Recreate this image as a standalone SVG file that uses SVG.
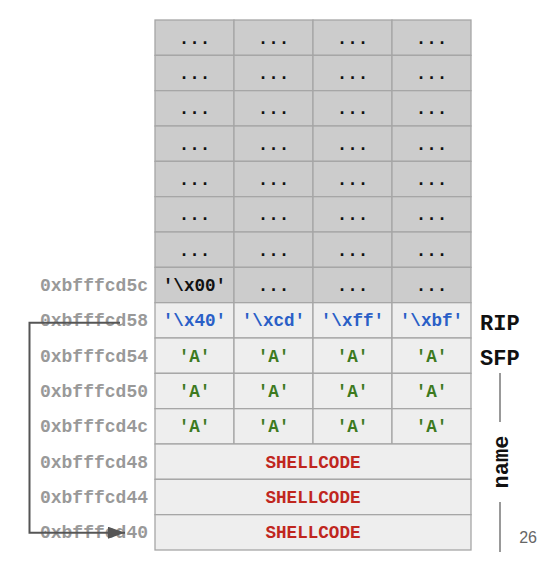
<svg xmlns="http://www.w3.org/2000/svg" width="552" height="578" viewBox="0 0 552 578">
<style>
.g{fill:#cccccc;stroke:#a6a6a6;stroke-width:1.3}
.l{fill:#eeeeee;stroke:#a6a6a6;stroke-width:1.3}
.t{font-family:"Liberation Mono",monospace;font-weight:bold;font-size:17.6px;text-anchor:middle}
.k{fill:#111}
.b{fill:#2a5fc7}
.a{fill:#3d7a1f}
.r{fill:#c0261e}
.addr{font-family:"Liberation Mono",monospace;font-weight:bold;font-size:18px;fill:#999;text-anchor:end}
.side{font-family:"Liberation Mono",monospace;font-weight:bold;font-size:22px;fill:#111}
.conn{fill:none;stroke:#555;stroke-width:2}
</style>
<defs>
<marker id="ah" markerWidth="17" markerHeight="12" refX="17" refY="6" orient="auto" markerUnits="userSpaceOnUse" viewBox="0 0 17 12">
<path d="M0,0 L17,6 L0,12 z" fill="#555"/>
</marker>
</defs>
<rect width="552" height="578" fill="#fff"/>
<g id="filler">
<rect class="g" x="155" y="20" width="79" height="35.33"/><rect class="g" x="234" y="20" width="79" height="35.33"/><rect class="g" x="313" y="20" width="79" height="35.33"/><rect class="g" x="392" y="20" width="79" height="35.33"/>
<rect class="g" x="155" y="55.33" width="79" height="35.33"/><rect class="g" x="234" y="55.33" width="79" height="35.33"/><rect class="g" x="313" y="55.33" width="79" height="35.33"/><rect class="g" x="392" y="55.33" width="79" height="35.33"/>
<rect class="g" x="155" y="90.67" width="79" height="35.33"/><rect class="g" x="234" y="90.67" width="79" height="35.33"/><rect class="g" x="313" y="90.67" width="79" height="35.33"/><rect class="g" x="392" y="90.67" width="79" height="35.33"/>
<rect class="g" x="155" y="126" width="79" height="35.33"/><rect class="g" x="234" y="126" width="79" height="35.33"/><rect class="g" x="313" y="126" width="79" height="35.33"/><rect class="g" x="392" y="126" width="79" height="35.33"/>
<rect class="g" x="155" y="161.33" width="79" height="35.33"/><rect class="g" x="234" y="161.33" width="79" height="35.33"/><rect class="g" x="313" y="161.33" width="79" height="35.33"/><rect class="g" x="392" y="161.33" width="79" height="35.33"/>
<rect class="g" x="155" y="196.67" width="79" height="35.33"/><rect class="g" x="234" y="196.67" width="79" height="35.33"/><rect class="g" x="313" y="196.67" width="79" height="35.33"/><rect class="g" x="392" y="196.67" width="79" height="35.33"/>
<rect class="g" x="155" y="232" width="79" height="35.33"/><rect class="g" x="234" y="232" width="79" height="35.33"/><rect class="g" x="313" y="232" width="79" height="35.33"/><rect class="g" x="392" y="232" width="79" height="35.33"/>
<g class="t k">
<text x="194.5" y="43.7">...</text><text x="273.5" y="43.7">...</text><text x="352.5" y="43.7">...</text><text x="431.5" y="43.7">...</text>
<text x="194.5" y="79">...</text><text x="273.5" y="79">...</text><text x="352.5" y="79">...</text><text x="431.5" y="79">...</text>
<text x="194.5" y="114.3">...</text><text x="273.5" y="114.3">...</text><text x="352.5" y="114.3">...</text><text x="431.5" y="114.3">...</text>
<text x="194.5" y="149.7">...</text><text x="273.5" y="149.7">...</text><text x="352.5" y="149.7">...</text><text x="431.5" y="149.7">...</text>
<text x="194.5" y="185">...</text><text x="273.5" y="185">...</text><text x="352.5" y="185">...</text><text x="431.5" y="185">...</text>
<text x="194.5" y="220.3">...</text><text x="273.5" y="220.3">...</text><text x="352.5" y="220.3">...</text><text x="431.5" y="220.3">...</text>
<text x="194.5" y="255.7">...</text><text x="273.5" y="255.7">...</text><text x="352.5" y="255.7">...</text><text x="431.5" y="255.7">...</text>
</g>
</g>
<g id="row-5c">
<rect class="g" x="155" y="267.33" width="79" height="35.33"/><rect class="g" x="234" y="267.33" width="79" height="35.33"/><rect class="g" x="313" y="267.33" width="79" height="35.33"/><rect class="g" x="392" y="267.33" width="79" height="35.33"/>
<text class="t k" x="194.5" y="291">'\x00'</text>
<text class="t k" x="273.5" y="291">...</text><text class="t k" x="352.5" y="291">...</text><text class="t k" x="431.5" y="291">...</text>
<text class="addr" x="148" y="291">0xbfffcd5c</text>
</g>
<g id="row-58">
<rect class="l" x="155" y="302.67" width="79" height="35.33"/><rect class="l" x="234" y="302.67" width="79" height="35.33"/><rect class="l" x="313" y="302.67" width="79" height="35.33"/><rect class="l" x="392" y="302.67" width="79" height="35.33"/>
<text class="t b" x="194.5" y="326.3">'\x40'</text><text class="t b" x="273.5" y="326.3">'\xcd'</text><text class="t b" x="352.5" y="326.3">'\xff'</text><text class="t b" x="431.5" y="326.3">'\xbf'</text>
<text class="addr" x="148" y="326.3">0xbfffcd58</text>
<text class="side" x="480" y="330">RIP</text>
</g>
<g id="row-54">
<rect class="l" x="155" y="338" width="79" height="35.33"/><rect class="l" x="234" y="338" width="79" height="35.33"/><rect class="l" x="313" y="338" width="79" height="35.33"/><rect class="l" x="392" y="338" width="79" height="35.33"/>
<text class="t a" x="194.5" y="361.7">'A'</text><text class="t a" x="273.5" y="361.7">'A'</text><text class="t a" x="352.5" y="361.7">'A'</text><text class="t a" x="431.5" y="361.7">'A'</text>
<text class="addr" x="148" y="361.7">0xbfffcd54</text>
<text class="side" x="480" y="365">SFP</text>
</g>
<g id="row-50">
<rect class="l" x="155" y="373.33" width="79" height="35.33"/><rect class="l" x="234" y="373.33" width="79" height="35.33"/><rect class="l" x="313" y="373.33" width="79" height="35.33"/><rect class="l" x="392" y="373.33" width="79" height="35.33"/>
<text class="t a" x="194.5" y="397">'A'</text><text class="t a" x="273.5" y="397">'A'</text><text class="t a" x="352.5" y="397">'A'</text><text class="t a" x="431.5" y="397">'A'</text>
<text class="addr" x="148" y="397">0xbfffcd50</text>
</g>
<g id="row-4c">
<rect class="l" x="155" y="408.67" width="79" height="35.33"/><rect class="l" x="234" y="408.67" width="79" height="35.33"/><rect class="l" x="313" y="408.67" width="79" height="35.33"/><rect class="l" x="392" y="408.67" width="79" height="35.33"/>
<text class="t a" x="194.5" y="432.3">'A'</text><text class="t a" x="273.5" y="432.3">'A'</text><text class="t a" x="352.5" y="432.3">'A'</text><text class="t a" x="431.5" y="432.3">'A'</text>
<text class="addr" x="148" y="432.3">0xbfffcd4c</text>
</g>
<g id="row-48">
<rect class="l" x="155" y="444" width="316" height="35.33"/>
<text class="t r" x="313" y="467.7">SHELLCODE</text>
<text class="addr" x="148" y="467.7">0xbfffcd48</text>
</g>
<g id="row-44">
<rect class="l" x="155" y="479.33" width="316" height="35.33"/>
<text class="t r" x="313" y="503">SHELLCODE</text>
<text class="addr" x="148" y="503">0xbfffcd44</text>
</g>
<g id="row-40">
<rect class="l" x="155" y="514.67" width="316" height="35.33"/>
<text class="t r" x="313" y="538.3">SHELLCODE</text>
<text class="addr" x="148" y="538.3">0xbfffcd40</text>
</g>
<g id="name-brace">
<line x1="500" y1="373" x2="500" y2="422" stroke="#555" stroke-width="1.2"/>
<line x1="500" y1="502" x2="500" y2="552" stroke="#555" stroke-width="1.2"/>
<text class="side" transform="translate(508,462) rotate(-90)" text-anchor="middle">name</text>
</g>
<text x="537" y="543" font-family="Liberation Sans,Arial,sans-serif" font-size="16" fill="#666" text-anchor="end">26</text>
<g id="connectors">
<path class="conn" d="M120,322.7 H29.5 V532.7 H125" marker-end="url(#ah)"/>
</g>
</svg>
